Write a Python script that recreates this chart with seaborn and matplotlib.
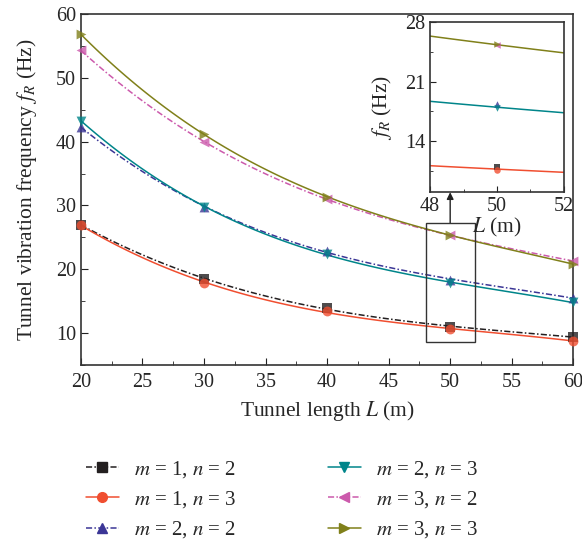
import numpy as np
import pandas as pd
import seaborn as sns
import matplotlib.pyplot as plt
from matplotlib.lines import Line2D
from matplotlib.patches import Rectangle
from matplotlib.ticker import MultipleLocator
from matplotlib import transforms

# tunnel length (m)
L = [20, 30, 40, 50, 60]

# frequency f_R (Hz) for each (m, n) case
f_m1n2 = [27.0, 18.5, 13.9, 11.0, 9.4]
f_m1n3 = [26.9, 17.9, 13.4, 10.6, 8.8]
f_m2n2 = [42.3, 29.8, 22.8, 18.4, 15.5]
f_m2n3 = [43.3, 29.8, 22.4, 17.9, 14.8]
f_m3n2 = [54.3, 40.0, 31.0, 25.3, 21.3]
f_m3n3 = [56.8, 41.2, 31.3, 25.4, 20.8]

labels = ["$m$ = 1, $n$ = 2", "$m$ = 1, $n$ = 3", "$m$ = 2, $n$ = 2",
          "$m$ = 2, $n$ = 3", "$m$ = 3, $n$ = 2", "$m$ = 3, $n$ = 3"]
series = [f_m1n2, f_m1n3, f_m2n2, f_m2n3, f_m3n2, f_m3n3]
colors = ["#231f20", "#f04e30", "#3b3696", "#00858a", "#cc5aac", "#80801a"]
markers = ["s", "o", "^", "v", "<", ">"]
dashdot = (0, (4, 1.5, 1, 1.5))
styles = [dashdot, "-", dashdot, "-", dashdot, "-"]

sns.set_style("ticks")
plt.rcParams['font.family'] = ['Liberation Serif', 'DejaVu Serif']
plt.rcParams['mathtext.fontset'] = 'stix'
plt.rcParams['font.size'] = 14

fig = plt.figure(figsize=(5.82, 5.40), dpi=100)
ax = fig.add_axes([0.139, 0.324, 0.846, 0.650])

for vals, c, mk, ls in zip(series, colors, markers, styles):
    df = pd.DataFrame({"L": L, "f": vals})
    sns.regplot(data=df, x="L", y="f", order=3, ci=None, ax=ax, marker=mk,
                scatter_kws=dict(s=50, color=c, zorder=3, linewidths=0, clip_on=False),
                line_kws=dict(color=c, lw=1.1, ls=ls))

ax.set_xlim(20, 60)
ax.set_ylim(5, 60)
ax.xaxis.set_major_locator(MultipleLocator(5))
ax.xaxis.set_minor_locator(MultipleLocator(2.5))
ax.yaxis.set_major_locator(MultipleLocator(10))
ax.yaxis.set_minor_locator(MultipleLocator(5))
ax.tick_params(which='both', direction='in', labelsize=14.5, color='#222222')
ax.tick_params(which='major', length=5)
ax.tick_params(which='minor', length=3)
ax.tick_params(axis='x', pad=6)
for s in ax.spines.values():
    s.set_linewidth(1.2)
    s.set_color('#333333')
ax.set_xlabel("Tunnel length $L$ (m)", fontsize=15.5, labelpad=5)
ax.set_ylabel("Tunnel vibration frequency $f_R$ (Hz)", fontsize=15.5, labelpad=12)

# zoom box
ax.add_patch(Rectangle((48, 8.6), 4, 18.6, fill=False, ec='#333333', lw=1.0, zorder=4))

# inset: only the n = 3 fits are drawn, all points at L = 50
axins = fig.add_axes([0.739, 0.644, 0.230, 0.315])
for vals, c, mk, ls in zip(series, colors, markers, styles):
    df = pd.DataFrame({"L": L, "f": vals})
    sns.regplot(data=df, x="L", y="f", order=3, ci=None, ax=axins, marker=mk,
                fit_reg=(ls == "-"),
                scatter_kws=dict(s=22, color=c, zorder=3, linewidths=0),
                line_kws=dict(color=c, lw=1.1, ls=ls))
axins.set_xlim(48, 52)
axins.set_ylim(8, 28)
axins.xaxis.set_major_locator(MultipleLocator(2))
axins.xaxis.set_minor_locator(MultipleLocator(1))
axins.yaxis.set_major_locator(MultipleLocator(7))
axins.yaxis.set_minor_locator(MultipleLocator(3.5))
axins.tick_params(which='both', direction='in', labelsize=14.5, color='#222222')
axins.tick_params(which='major', length=4)
axins.tick_params(which='minor', length=2.5)
for s in axins.spines.values():
    s.set_linewidth(1.2)
    s.set_color('#333333')
axins.set_xlabel("$L$ (m)", fontsize=15.5, labelpad=0)
axins.set_ylabel("$f_R$ (Hz)", fontsize=15.5, labelpad=8)
axins.set_facecolor('white')

# arrow from box to inset
tr = transforms.blended_transform_factory(ax.transData, axins.transAxes)
ax.annotate('', xy=(50, 0), xycoords=tr, xytext=(50, 27.2), textcoords=ax.transData,
            arrowprops=dict(arrowstyle='-|>', color='#222222', lw=1.0,
                            shrinkA=0, shrinkB=0, mutation_scale=10))

handles = [Line2D([], [], color=c, marker=mk, ls=ls, lw=1.1, markersize=7)
           for c, mk, ls in zip(colors, markers, styles)]
fig.legend(handles, labels, ncol=2, loc='upper left',
           bbox_to_anchor=(0.115, 0.185), frameon=False, fontsize=15,
           handlelength=1.6, columnspacing=4.4, labelspacing=0.45,
           handletextpad=0.7)

fig.savefig("out.png", dpi=100)
